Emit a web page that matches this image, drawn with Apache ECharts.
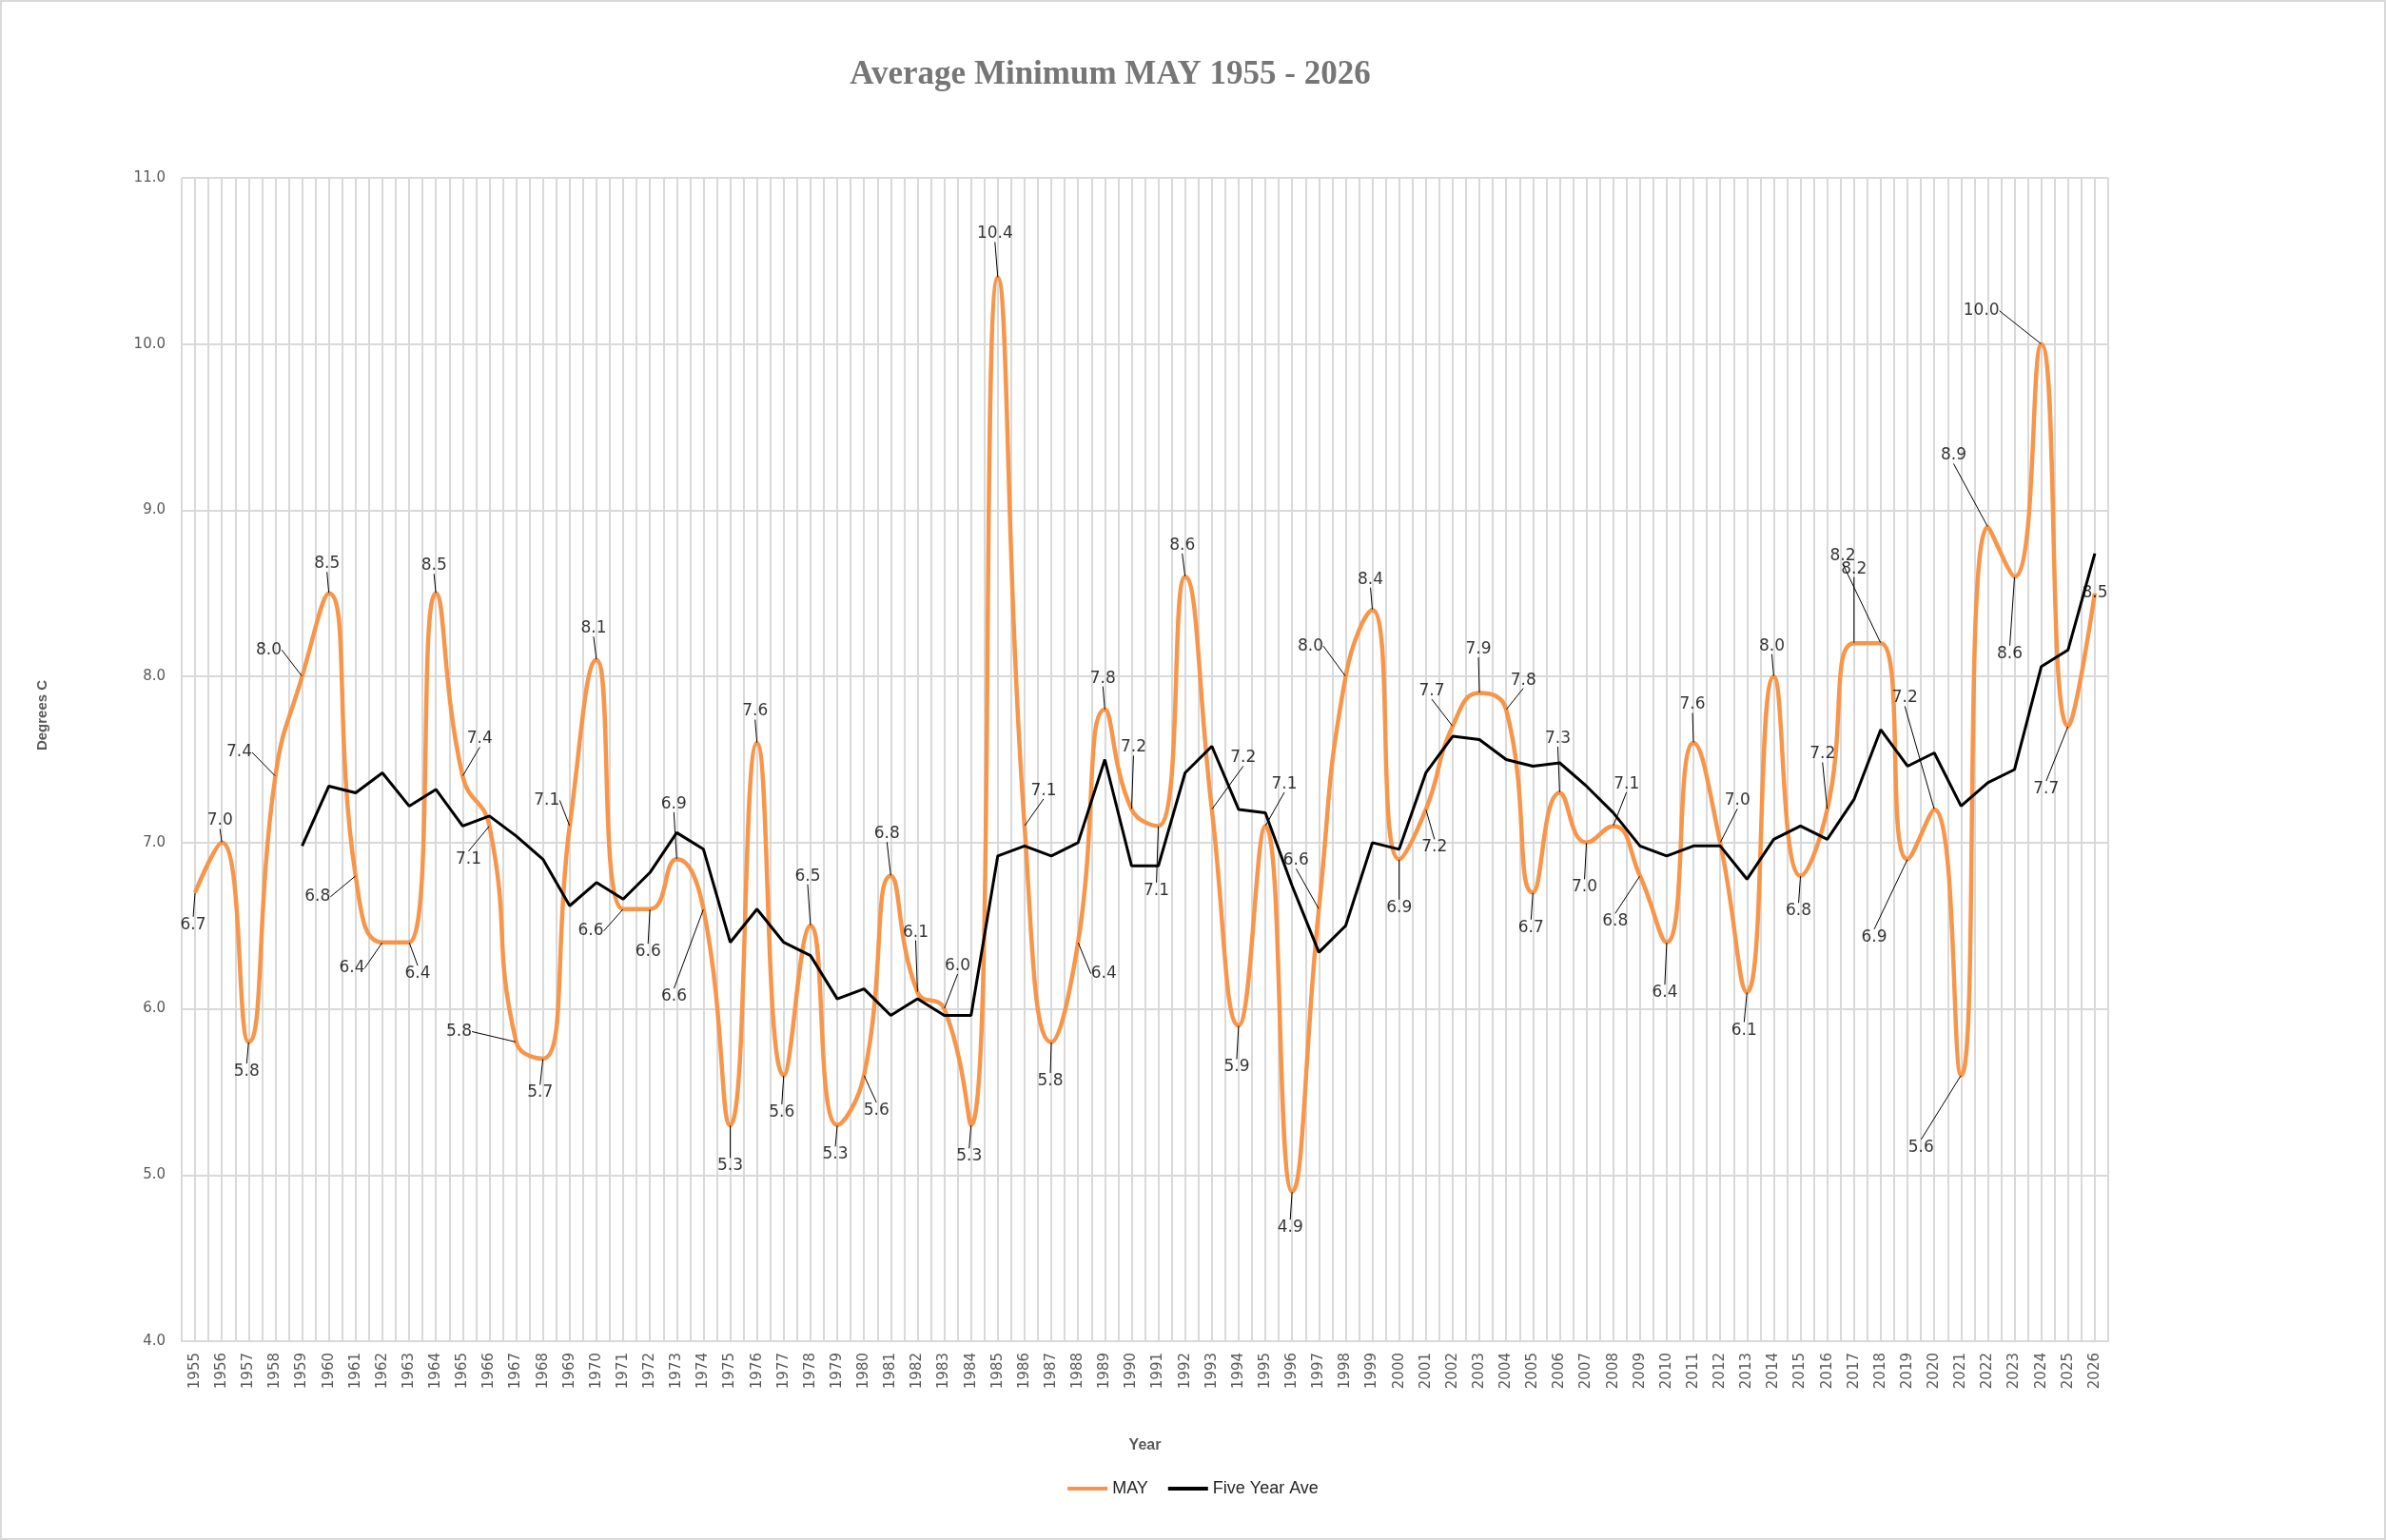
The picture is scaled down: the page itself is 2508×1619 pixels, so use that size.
<!DOCTYPE html>
<html>
<head>
<meta charset="utf-8">
<title>Average Minimum MAY 1955 - 2026</title>
<script src="https://cdn.jsdelivr.net/npm/echarts@6/dist/echarts.min.js"></script>
<style>
  html, body { margin: 0; padding: 0; background: #fff; }
  #chart { width: 2508px; height: 1619px; }
  /* outer chart-area border, like the spreadsheet frame */
  #frame { position: absolute; left: 0; top: 0; width: 2508px; height: 1619px;
    box-sizing: border-box; border: 2px solid #d9d9d9; pointer-events: none; }
</style>
</head>
<body>
<div id="chart"></div>
<div id="frame"></div>
<script>
(function () {
  "use strict";

  // ---- data ----
  var firstYear = 1955;
  var mayValues = [
    6.7, 7.0, 5.8, 7.4, 8.0, 8.5, 6.8, 6.4, 6.4, 8.5,   // 1955-1964
    7.4, 7.1, 5.8, 5.7, 7.1, 8.1, 6.6, 6.6, 6.9, 6.6,   // 1965-1974
    5.3, 7.6, 5.6, 6.5, 5.3, 5.6, 6.8, 6.1, 6.0, 5.3,   // 1975-1984
    10.4, 7.1, 5.8, 6.4, 7.8, 7.2, 7.1, 8.6, 7.2, 5.9,  // 1985-1994
    7.1, 4.9, 6.6, 8.0, 8.4, 6.9, 7.2, 7.7, 7.9, 7.8,   // 1995-2004
    6.7, 7.3, 7.0, 7.1, 6.8, 6.4, 7.6, 7.0, 6.1, 8.0,   // 2005-2014
    6.8, 7.2, 8.2, 8.2, 6.9, 7.2, 5.6, 8.9, 8.6, 10.0,  // 2015-2024
    7.7, 8.5                                            // 2025-2026
  ];
  var aveFirstYear = 1959;
  var aveValues = [
    6.98, 7.34, 7.30, 7.42, 7.22, 7.32,                 // 1959-1964
    7.10, 7.16, 7.04, 6.90, 6.62, 6.76, 6.66, 6.82, 7.06, 6.96, // 1965-1974
    6.40, 6.60, 6.40, 6.32, 6.06, 6.12, 5.96, 6.06, 5.96, 5.96, // 1975-1984
    6.92, 6.98, 6.92, 7.00, 7.50, 6.86, 6.86, 7.42, 7.58, 7.20, // 1985-1994
    7.18, 6.74, 6.34, 6.50, 7.00, 6.96, 7.42, 7.64, 7.62, 7.50, // 1995-2004
    7.46, 7.48, 7.34, 7.18, 6.98, 6.92, 6.98, 6.98, 6.78, 7.02, // 2005-2014
    7.10, 7.02, 7.26, 7.68, 7.46, 7.54, 7.22, 7.36, 7.44, 8.06, // 2015-2024
    8.16, 8.74                                                  // 2025-2026
  ];
  var yTicks = { min: 4, max: 11, step: 1 };

  // label nudges (px, from the point) so labels sit where the spreadsheet put them
  var labelOffsets = [
    [-2, 34], [-2, -23], [-2, 31], [-38, -25], [-35, -28], [-2, -31], [-40, 22], [-32, 27], [9, 33], [-2, -29],
    [18, -39], [-22, 35], [-60, -11], [-3, 36], [-24, -27], [-3, -33], [-34, 23], [-2, 45], [-3, -58], [-31, 92],
    [0, 43], [-2, -33], [-2, 39], [-3, -52], [-2, 31], [13, 37], [-4, -44], [-2, -63], [14, -45], [-2, 33],
    [-3, -46], [20, -37], [-1, 41], [27, 33], [-2, -33], [2, -65], [-2, 68], [-3, -33], [33, -54], [-2, 44],
    [20, -44], [-2, 38], [-24, -51], [-37, -32], [-2, -32], [0, 51], [9, 40], [-22, -37], [-1, -46], [18, -31],
    [-2, 37], [-2, -57], [-2, 47], [14, -44], [-26, 48], [-2, 53], [-1, -40], [18, -44], [-3, 40], [-2, -32],
    [-2, 37], [-5, -58], [0, -78], [-40, -92], [-35, 82], [-31, -117], [-42, 76], [-36, -75], [-5, 81], [-63, -35],
    [-23, 66], [0, 0]
  ];

  var C = { orange: "#F7964A", black: "#000000", grid: "#d9d9d9", axisText: "#595959", title: "#767676" };

  function pairs(startYear, values) {
    return values.map(function (v, i) { return [startYear + i, v]; });
  }

  var mayData = pairs(firstYear, mayValues);
  var aveData = pairs(aveFirstYear, aveValues);

  // label points: same values, leader line only where the label was pushed away
  var labelData = mayData.map(function (d, i) {
    var o = labelOffsets[i];
    return { value: d, labelLine: { show: Math.sqrt(o[0] * o[0] + o[1] * o[1]) > 20 } };
  });

  function yearLabel(v) {
    return Math.abs(v - Math.round(v)) < 1e-6 ? String(Math.round(v)) : "";
  }

  var chart = echarts.init(document.getElementById("chart"), null, { renderer: "canvas" });

  chart.setOption({
    animation: false,
    backgroundColor: "#fff",
    grid: { left: 191, right: 292, top: 187, bottom: 209, containLabel: false },
    graphic: [
      { type: "text", x: 1167, y: 79,
        style: { text: "Average Minimum MAY 1955 - 2026", textAlign: "center", textVerticalAlign: "middle",
          font: 'bold 35px "Liberation Serif"', fill: C.title } },
      { type: "text", x: 45, y: 752, rotation: Math.PI / 2,
        style: { text: "Degrees C", textAlign: "center", textVerticalAlign: "middle",
          font: 'bold 15px "Liberation Sans"', fill: C.axisText } }
    ],
    legend: {
      data: ["MAY", "Five Year Ave"], left: "center", top: 1551,
      icon: "rect", itemWidth: 42, itemHeight: 4, itemGap: 21,
      textStyle: { fontFamily: "Liberation Sans", fontSize: 18, color: "#262626" }
    },
    xAxis: {
      type: "value", min: 1954.5, max: 2026.5, interval: 0.5,
      name: "Year", nameLocation: "middle", nameGap: 102,
      nameTextStyle: { fontFamily: "Liberation Sans", fontWeight: "bold", fontSize: 16, color: C.axisText },
      axisLine: { show: true, lineStyle: { color: C.grid, width: 2 } },
      axisTick: { show: false },
      splitLine: { show: true, lineStyle: { color: C.grid, width: 2 } },
      axisLabel: { rotate: 90, margin: 12, color: C.axisText, fontFamily: "DejaVu Sans", fontSize: 15,
        formatter: yearLabel, showMinLabel: true, showMaxLabel: true }
    },
    yAxis: {
      type: "value", min: yTicks.min, max: yTicks.max, interval: yTicks.step,
      axisLine: { show: false }, axisTick: { show: false },
      splitLine: { show: true, lineStyle: { color: C.grid, width: 2 } },
      axisLabel: { margin: 17, color: C.axisText, fontFamily: "DejaVu Sans", fontSize: 15,
        formatter: function (v) { return v.toFixed(1); } }
    },
    series: [
      { name: "MAY", type: "line", data: mayData, smooth: 0.5, symbol: "none", z: 2,
        lineStyle: { color: C.orange, width: 4.5 }, itemStyle: { color: C.orange } },
      { name: "Five Year Ave", type: "line", data: aveData, smooth: false, symbol: "none", z: 3,
        lineStyle: { color: C.black, width: 3 }, itemStyle: { color: C.black } },
      // data labels for MAY, drawn above both lines
      { name: "MAY labels", type: "scatter", data: labelData, z: 5, symbolSize: 1, silent: true,
        itemStyle: { color: "rgba(0,0,0,0)" },
        label: { show: true, position: "inside", color: "#000", fontFamily: "DejaVu Sans", fontSize: 17,
          formatter: function (p) { return p.value[1].toFixed(1); } },
        labelLine: { show: true, lineStyle: { color: "#000", width: 1 } },
        labelLayout: function (p) {
          var o = labelOffsets[p.dataIndex] || [0, 0];
          return { dx: o[0], dy: o[1] };
        } }
    ]
  });

  window.addEventListener("resize", function () { chart.resize(); });
})();
</script>
</body>
</html>
